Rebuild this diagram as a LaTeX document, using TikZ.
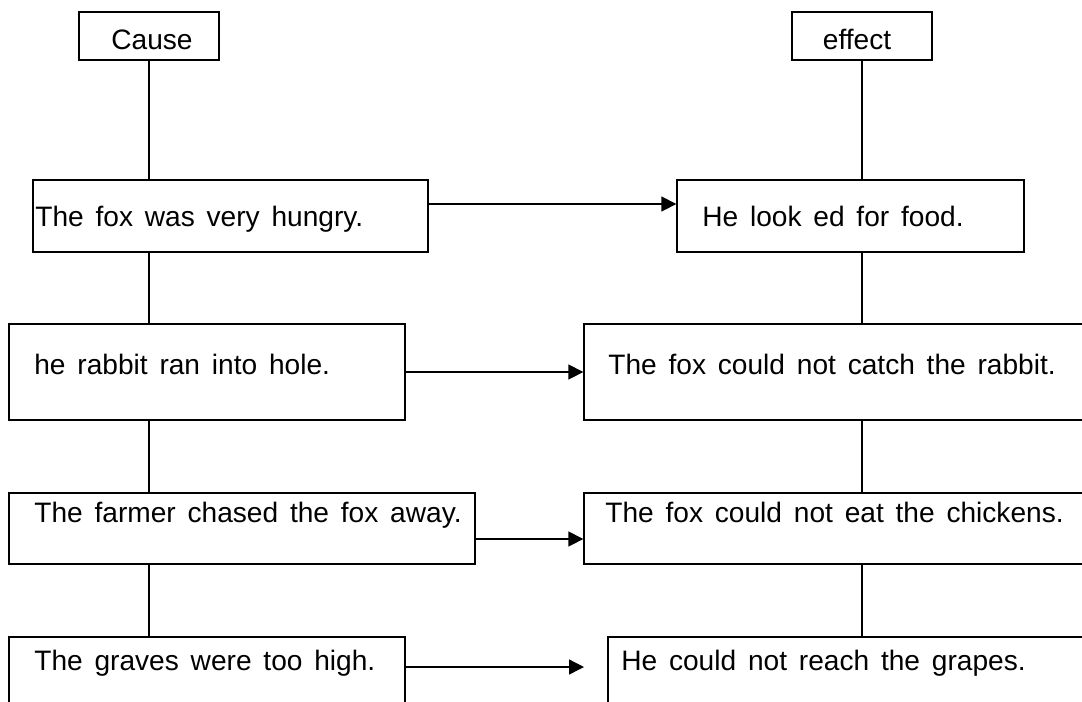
\documentclass[tikz,border=0pt]{standalone}
\usepackage{fontspec}
\setmainfont{Liberation Sans}
\usetikzlibrary{arrows.meta, fit, positioning}
\newcommand{\boxfont}{\fontsize{16}{19}\selectfont\spaceskip 0.42em\relax}

\begin{document}
\begin{tikzpicture}[
            x=0.02cm, y=-0.02cm,
            % Define node styles
            box/.style={rectangle, draw, line width=0.75pt, inner sep=0pt},
            txt/.style={inner sep=0pt, anchor=base west, font=\boxfont},
            link/.style={line width=0.75pt},
            arrow/.style={line width=0.75pt, -{Triangle[length=0.3cm, width=0.3cm]}}
        ]
        \useasboundingbox (0,0) rectangle (1082,701);
        \clip (0,0) rectangle (1082,701);

        % Headings
        \node[box, fit={(79,12) (219,60)}] (cause) {};
        \node[txt, anchor=base] (causetxt) at (152,49) {Cause};
        \node[box, fit={(792,12) (932,60)}] (effect) {};
        \node[txt, anchor=base] (effecttxt) at (857,49) {effect};

        % Cause column
        \node[box, fit={(33,180) (428,252)}] (c1) {};
        \node[txt] (c1txt) at (35,226) {The fox was very hungry.};
        \node[box, fit={(9,324) (405,420)}] (c2) {};
        \node[txt] (c2txt) at (34,374) {he rabbit ran into hole.};
        \node[box, fit={(9,493) (475,564)}] (c3) {};
        \node[txt] (c3txt) at (34,522) {The farmer chased the fox away.};
        \node[box, fit={(9,637) (405,730)}] (c4) {};
        \node[txt] (c4txt) at (34,670) {The graves were too high.};

        % Effect column
        \node[box, fit={(677,180) (1024,252)}] (e1) {};
        \node[txt] (e1txt) at (702,226) {He look ed for food.};
        \node[box, fit={(584,324) (1110,420)}] (e2) {};
        \node[txt] (e2txt) at (608,374) {The fox could not catch the rabbit.};
        \node[box, fit={(584,493) (1110,564)}] (e3) {};
        \node[txt] (e3txt) at (605,522) {The fox could not eat the chickens.};
        \node[box, fit={(608,637) (1110,730)}] (e4) {};
        \node[txt] (e4txt) at (621,670) {He could not reach the grapes.};

        % Vertical links
        \draw[link] (cause.south) -- (cause.south |- c1.north);
        \draw[link] (cause.south |- c1.south) -- (cause.south |- c2.north);
        \draw[link] (cause.south |- c2.south) -- (cause.south |- c3.north);
        \draw[link] (cause.south |- c3.south) -- (cause.south |- c4.north);

        \draw[link] (effect.south) -- (effect.south |- e1.north);
        \draw[link] (effect.south |- e1.south) -- (effect.south |- e2.north);
        \draw[link] (effect.south |- e2.south) -- (effect.south |- e3.north);
        \draw[link] (effect.south |- e3.south) -- (effect.south |- e4.north);

        % Cause -> effect arrows
        \coordinate (a1) at (0,204);
        \coordinate (a2) at (0,372);
        \coordinate (a3) at (0,539);
        \coordinate (a4end) at (584,667);
        \draw[arrow] (c1.east |- a1) -- (e1.west |- a1);
        \draw[arrow] (c2.east |- a2) -- (e2.west |- a2);
        \draw[arrow] (c3.east |- a3) -- (e3.west |- a3);
        \draw[arrow] (c4.east |- a4end) -- (a4end);

\end{tikzpicture}
\end{document}
